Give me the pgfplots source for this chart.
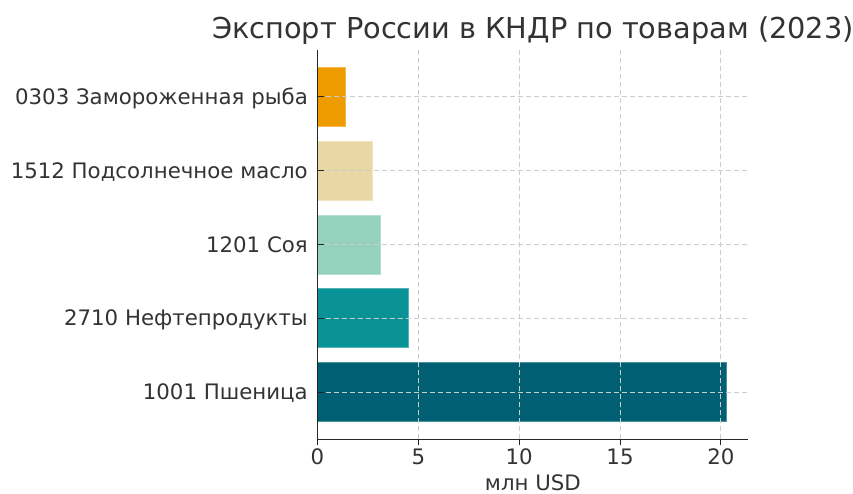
\documentclass[border=0pt]{standalone}
\usepackage{pgfplots}
\pgfplotsset{compat=1.18}
\usepackage{fontspec}
\setmainfont{DejaVu Sans}
\definecolor{cfish}{HTML}{EE9B00}
\definecolor{coil}{HTML}{E9D8A6}
\definecolor{csoy}{HTML}{94D2BD}
\definecolor{cpet}{HTML}{0A9396}
\definecolor{cwheat}{HTML}{005F73}
\definecolor{txt}{HTML}{333333}
\begin{document}
\begin{tikzpicture}
\useasboundingbox (0,0) rectangle (853pt,493pt);
\begin{axis}[
  at={(317.5pt,53.7pt)}, anchor=south west,
  scale only axis, width=430.8pt, height=389.6pt,
  xmin=0, xmax=21.36, ymin=-0.64, ymax=4.64,
  xbar, bar width=0.8, bar shift=0pt,
  axis x line*=bottom, axis y line*=left,
  axis line style={line width=1pt, color=black!85, -},
  xtick={0,5,10,15,20}, ytick={0,1,2,3,4},
  yticklabels={1001 Пшеница, 2710 Нефтепродукты, 1201 Соя, 1512 Подсолнечное масло, 0303 Замороженная рыба},
  tick align=inside, major tick length=6pt,
  tick style={line width=0.9pt, color=black!85},
  xtick style={yshift=-6pt},
  grid=major,
  major grid style={dash pattern=on 5pt off 3pt, line width=0.9pt, color=black!20},
  axis on top,
  /pgf/number format/assume math mode=true,
  ticklabel style={font=\fontsize{21.3}{25}\selectfont, text=txt, inner sep=0pt},
  yticklabel style={anchor=base east, xshift=-9.5pt, yshift=-7.7pt},
  xticklabel style={anchor=north, yshift=-9pt},
  title={Экспорт России в КНДР по товарам (2023)},
  title style={font=\fontsize{28.8}{34}\selectfont, text=txt, inner sep=0pt, anchor=base, at={(axis description cs:0.5,1)}, yshift=5pt},
  xlabel={млн USD},
  xlabel style={font=\fontsize{21.3}{25}\selectfont, text=txt, inner sep=0pt, anchor=base, at={(axis description cs:0.5,0)}, yshift=-50.7pt},
]
\addplot[fill=cwheat, draw=cwheat!70!white, line width=0.8pt] coordinates {(20.29,0)};
\addplot[fill=cpet, draw=cpet!70!white, line width=0.8pt] coordinates {(4.52,1)};
\addplot[fill=csoy, draw=csoy!70!white, line width=0.8pt] coordinates {(3.10,2)};
\addplot[fill=coil, draw=coil!70!white, line width=0.8pt] coordinates {(2.72,3)};
\addplot[fill=cfish, draw=cfish!70!white, line width=0.8pt] coordinates {(1.40,4)};
\end{axis}
\end{tikzpicture}
\end{document}
